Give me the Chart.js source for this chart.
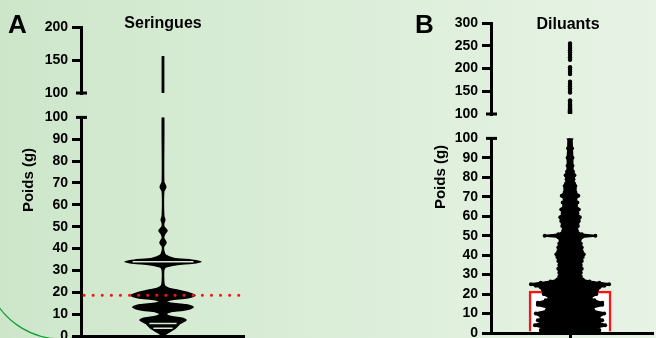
<!DOCTYPE html>
<html>
<head>
<meta charset="utf-8">
<script src="https://cdn.jsdelivr.net/npm/chart.js@4.4.1/dist/chart.umd.min.js"></script>
<style>
  body { margin: 0; }
  #stage {
    position: relative; width: 656px; height: 338px; overflow: hidden;
    background: linear-gradient(to right, #cde6ca 0%, #dbeed8 50%, #e7f3e5 100%);
    font-family: 'Liberation Sans', Arial, sans-serif; font-weight: bold; color: #000;
  }
  canvas { position: absolute; }
  .lbl { position: absolute; white-space: nowrap; }
  .letter { font-size: 26px; line-height: 26px; }
  .title { font-size: 16px; line-height: 16px; width: 120px; text-align: center; }
  .ytitle { font-size: 15px; line-height: 20px; width: 100px; height: 20px; text-align: center; transform: rotate(-90deg); }
</style>
</head>
<body>
<div id="stage">
  <canvas id="aTop" width="250" height="110" style="left:0;top:0"></canvas>
  <canvas id="aBot" width="250" height="255" style="left:0;top:105px"></canvas>
  <canvas id="bTop" width="326" height="128" style="left:330px;top:0"></canvas>
  <canvas id="bBot" width="326" height="234" style="left:330px;top:126px"></canvas>
  <div class="lbl letter" style="left:8px;top:11px">A</div>
  <div class="lbl letter" style="left:415px;top:11px">B</div>
  <div class="lbl title" style="left:103px;top:15px">Seringues</div>
  <div class="lbl title" style="left:508px;top:16px">Diluants</div>
  <div class="lbl ytitle" style="left:-22px;top:170px">Poids (g)</div>
  <div class="lbl ytitle" style="left:390px;top:167px">Poids (g)</div>
</div>
<script>
'use strict';
Chart.defaults.font.family = "'Liberation Sans', Arial, sans-serif";
Chart.defaults.color = '#000';

// A - Seringues: violin outline (weight level in g, half width in px)
const seringuesLevels = [0, 1.5, 3.5, 5.7, 6.5, 7.3, 8.2, 9, 10, 11, 11.8, 12.5, 13.2, 14.3, 15, 15.8, 16.6, 17.5, 18.6, 19.7,
  20.9, 21.8, 23, 25, 30, 31.5, 32.6, 33.3, 34, 34.7, 35.5, 37, 39, 41, 42.7, 44.8, 46.5, 48.2, 50, 51.5,
  53.2, 55, 66, 68.2, 70.5, 100];
const seringuesHalfWidth = [0.5, 5, 12, 17, 20, 23, 18, 7, 3, 7, 20, 27, 30, 23, 8, 3, 8, 25, 32, 26,
  15, 6, 1.5, 0.7, 0.7, 2.5, 13, 29, 38, 29, 11, 2.5, 0.7, 0.7, 3, 0.7, 1.5, 4, 1, 0.7,
  1.8, 0.7, 0.7, 2.8, 0.7, 0.7];
const seringuesHighLevels = [100, 120, 140, 155];
const seringuesHighHalfWidth = [0.7, 0.7, 0.7, 0.5];
const seringuesInnerLines = [3.5, 5.7, 34];
const seringuesRefLine = 18.6;

// B - Diluants: swarm envelope (weight level in g, half width in px)
const diluantsLevels = [0, 1.5, 2.5, 4, 5.5, 6.5, 8, 10, 11.5, 12.8, 14.5, 15.5, 16.8, 18.2, 20, 21.5, 22.5, 23.5, 24.3, 25,
  25.8, 26.5, 27.5, 29, 31, 33, 35, 37, 39, 40.5, 42, 44, 46, 48, 49.2, 50, 50.8, 52.5, 55, 57.5,
  59.5, 61.5, 63.5, 65.5, 67, 68.5, 70.5, 72.5, 74, 75.5, 77, 79, 81, 83, 86, 90, 95, 100];
const diluantsHalfWidth = [30, 30, 26, 36, 29, 33, 29, 35, 24, 23, 33, 33, 25, 21, 27, 27, 28, 30, 35, 40,
  30, 20, 13, 11, 11, 12, 11, 12, 13, 14, 12, 12, 11, 10, 12, 26, 12, 7, 8, 9,
  10, 7.5, 9, 6, 7.5, 5.5, 8.5, 5.5, 5, 5.5, 4, 3.5, 4.5, 3, 2.5, 2.5, 2, 1.5];
const diluantsHighValues = [255, 250, 245, 240, 235, 230, 225, 219, 203, 198, 193, 188, 171, 166, 161, 156, 151, 147,
  130, 127, 124, 121, 118, 116, 114, 112, 110, 108, 106, 104, 102];
const diluantsBar = 21.5;

// axis ranges
const lowerRange = [0, 100, 10];
const upperRangeA = [100, 200, 50];
const upperRangeB = [100, 300, 50];
const xRangeA = [-82, 80];
const xRangeB = [-81, 84];

function outline(levels, half) {
  const right = levels.map((v, i) => ({x: half[i], y: v}));
  const left = levels.map((v, i) => ({x: -half[i], y: v})).reverse();
  return right.concat(left);
}

const breakCap = {
  id: 'breakCap',
  afterDraw(chart, args, opts) {
    const y = chart.scales.y.getPixelForValue(opts.value);
    const x = chart.chartArea.left;
    const c = chart.ctx;
    c.save();
    c.strokeStyle = '#000';
    c.lineWidth = 3;
    c.beginPath();
    c.moveTo(x - 5, y);
    c.lineTo(x + 6, y);
    c.stroke();
    c.restore();
  }
};

const arcDeco = {
  id: 'arcDeco',
  beforeDraw(chart) {
    const c = chart.ctx;
    c.save();
    c.strokeStyle = '#17a03a';
    c.lineWidth = 1.5;
    c.beginPath();
    c.arc(61, 158, 76, Math.PI * 0.42, Math.PI);
    c.stroke();
    c.restore();
  }
};

function yAxis(range, width, capValue) {
  return {
    min: range[0], max: range[1],
    afterFit: s => { s.width = width; },
    ticks: { stepSize: range[2], autoSkip: false, padding: 4, color: '#000', font: { size: 14, weight: 'bold' } },
    grid: {
      drawOnChartArea: false, tickLength: 9, lineWidth: 3,
      color: c => (c.tick && c.tick.value === capValue) ? 'rgba(0,0,0,0)' : '#000'
    },
    border: { color: '#000', width: 3 }
  };
}

function xAxis(range, show) {
  return {
    type: 'linear', min: range[0], max: range[1], display: show, offset: false,
    afterBuildTicks: s => { s.ticks = [{ value: 0 }]; },
    afterFit: s => { s.height = 5; },
    ticks: { callback: () => '' },
    grid: { drawOnChartArea: false, offset: false, tickLength: 6, lineWidth: 3, color: '#000' },
    border: { color: '#000', width: 3 }
  };
}

function makeChart(id, datasets, scales, padding, capValue, extra) {
  return new Chart(document.getElementById(id), {
    type: 'scatter',
    data: { datasets: datasets },
    options: {
      responsive: false, animation: false, events: [],
      layout: { padding: padding },
      plugins: { legend: { display: false }, tooltip: { enabled: false }, breakCap: { value: capValue } },
      scales: scales
    },
    plugins: [breakCap].concat(extra || [])
  });
}

// A upper (100-200)
makeChart('aTop', [{
  type: 'line', data: outline(seringuesHighLevels, seringuesHighHalfWidth), fill: 'shape',
  backgroundColor: '#000', borderColor: '#000', borderWidth: 1.5, pointRadius: 0
}], { x: xAxis(xRangeA, false), y: yAxis(upperRangeA, 81, 100) },
  { left: 0, right: 7, top: 27, bottom: 12 }, 100);

// A lower (0-100)
const innerA = seringuesInnerLines.map(v => {
  const w = seringuesHalfWidth[seringuesLevels.indexOf(v)] * 0.8;
  return { type: 'line', data: [{x: -w, y: v}, {x: w, y: v}], borderColor: '#d4ead1', borderWidth: 1.5,
    pointRadius: 0, order: 1 };
});
makeChart('aBot', [
  { type: 'line', data: [{x: xRangeA[0] + 3, y: seringuesRefLine}, {x: xRangeA[1] - 3, y: seringuesRefLine}],
    borderColor: '#ff1111', borderWidth: 3, borderDash: [0.1, 9], borderCapStyle: 'round', pointRadius: 0, order: 0 },
  ...innerA,
  { type: 'line', data: outline(seringuesLevels, seringuesHalfWidth), fill: 'shape', backgroundColor: '#000',
    borderColor: '#000', borderWidth: 1.5, pointRadius: 0, tension: 0.25, order: 2 }
], { x: xAxis(xRangeA, true), y: yAxis(lowerRange, 81, 100) },
  { left: 0, right: 7, top: 11, bottom: 19 }, 100, [arcDeco]);

// B upper (100-300)
makeChart('bTop', [{
  data: diluantsHighValues.map(v => ({x: 0, y: v})),
  backgroundColor: '#000', borderWidth: 0, pointRadius: 2.2
}], { x: xAxis(xRangeB, false), y: yAxis(upperRangeB, 161, 100) },
  { left: 0, right: 0, top: 23, bottom: 9 }, 100);

// B lower (0-100)
makeChart('bBot', [
  { type: 'bar', data: [{x: 0, y: diluantsBar}], backgroundColor: '#ffffff', borderColor: '#ff1111',
    borderWidth: 2.5, barThickness: 82, order: 2 },
  { type: 'line', data: outline(diluantsLevels, diluantsHalfWidth), fill: 'shape', backgroundColor: '#000',
    borderColor: '#000', borderWidth: 2, pointRadius: 2, pointBackgroundColor: '#000', pointBorderWidth: 0,
    tension: 0.2, order: 0 }
], { x: xAxis(xRangeB, true), y: yAxis(lowerRange, 161, 100) },
  { left: 0, right: 0, top: 9, bottom: 22 }, 100);
</script>
</body>
</html>
